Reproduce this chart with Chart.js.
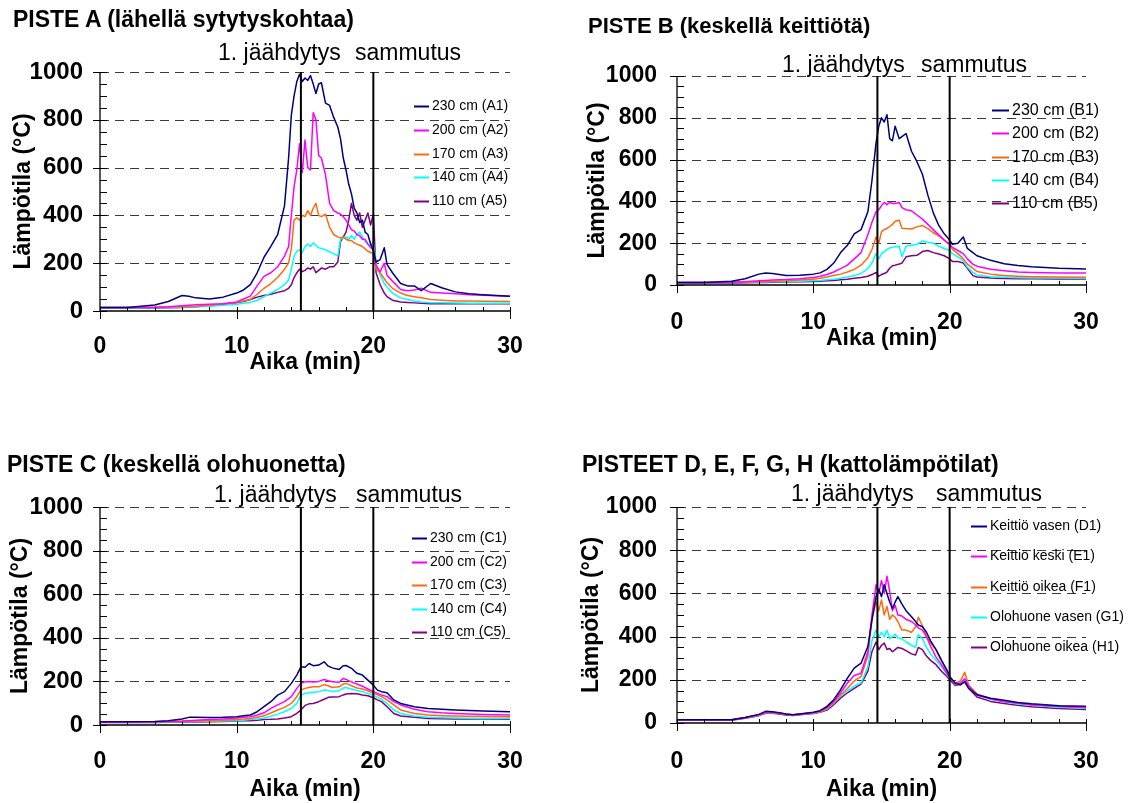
<!DOCTYPE html>
<html><head><meta charset="utf-8">
<script src="https://cdn.jsdelivr.net/npm/chart.js@4.4.1/dist/chart.umd.min.js"></script>
<style>
html,body{margin:0;padding:0;background:#fff;}
body{width:1130px;height:803px;position:relative;overflow:hidden;font-family:"Liberation Sans",Arial,sans-serif;}
canvas{position:absolute;}
.t{position:absolute;font-weight:bold;font-size:23px;line-height:23px;white-space:nowrap;color:#000;z-index:2;}
</style></head><body>
<script>
// ---------- data ----------
const panelTitles = ['PISTE A (lähellä sytytyskohtaa)','PISTE B (keskellä keittiötä)','PISTE C (keskellä olohuonetta)','PISTEET D, E, F, G, H (kattolämpötilat)'];
const xTitle = 'Aika (min)';
const yTitle = 'Lämpötila (°C)';
const eventTimes = [14.7, 20];
const eventLabels = ['1. jäähdytys', 'sammutus'];
const yGridValues = [200, 400, 600, 800, 1000];

const labelsA = ['230 cm (A1)','200 cm (A2)','170 cm (A3)','140 cm (A4)','110 cm (A5)'];
const labelsB = ['230 cm (B1)','200 cm (B2)','170 cm (B3)','140 cm (B4)','110 cm (B5)'];
const labelsC = ['230 cm (C1)','200 cm (C2)','170 cm (C3)','140 cm (C4)','110 cm (C5)'];
const labelsD = ['Keittiö vasen (D1)','Keittiö keski (E1)','Keittiö oikea (F1)','Olohuone vasen (G1)','Olohuone oikea (H1)'];

const tA = [0,2,4,5,6,6.5,7,8,9,10, 10.5,11,11.5,12,12.5,13,13.5,13.8,14,14.2, 14.4,14.6,14.8,15,15.2,15.4,15.6,15.8,16,16.2, 16.5,16.8,17.1,17.4,17.6,17.8,18,18.2,18.4,18.6, 18.8,19,19.2,19.4,19.6,19.8,20,20.2,20.5,20.8, 21,21.4,22,22.5,23,23.5,24.2,25,26,27, 28,30];
const a1 = [15,15,25,40,65,62,55,50,58,75, 88,110,160,225,270,320,440,640,820,900, 960,990,960,975,965,985,950,910,950,955, 870,860,810,770,720,640,590,530,490,430, 410,370,380,330,320,280,255,205,215,265, 195,160,115,105,105,85,115,97,80,72, 68,62];
const a2 = [15,15,16,18,22,24,26,28,30,38, 50,62,105,145,160,185,230,270,400,520, 590,700,580,715,600,590,830,800,650,640, 570,450,420,410,405,395,380,360,340,335, 320,315,300,300,280,265,255,190,165,200, 150,125,90,85,88,95,78,75,72,68, 66,62];
const a3 = [15,15,16,17,18,19,20,24,30,35, 42,48,70,95,115,140,175,200,260,380, 390,380,400,395,420,400,430,450,400,395, 405,350,320,310,305,310,300,295,295,285, 280,275,270,260,250,245,240,175,160,135, 118,95,75,65,60,55,48,45,42,42, 41,40];
const a4 = [13,13,14,15,16,17,18,20,24,28, 32,36,45,60,75,90,110,130,175,230, 250,255,245,270,280,270,285,275,265,262, 255,248,240,230,300,305,310,300,315,300, 320,330,310,290,280,275,290,200,150,115, 100,75,55,48,42,38,35,34,33,32, 32,32];
const a5 = [12,12,13,14,15,16,18,22,28,35, 40,48,58,65,70,78,85,95,110,140, 160,175,165,170,180,175,185,160,170,180, 175,185,185,205,290,310,330,380,450,400, 380,410,350,380,410,360,405,160,110,75, 60,45,38,36,34,32,30,30,30,30, 30,30];

const tB = [0,2,4,5,6,6.5,7,8,9,10, 10.5,11,11.5,12,12.5,13,13.5,14,14.3,14.6, 14.8,15,15.2,15.4,15.6,15.8,16,16.3,16.5,16.8, 17.2,17.6,18,18.4,18.8,19.2,19.6,20,20.2,20.6, 21,21.3,21.7,22,23,24,25,26,28,30];
const b1 = [12,12,18,30,52,57,55,45,47,52, 58,75,105,155,190,245,265,350,500,680, 760,800,780,815,700,690,760,700,710,725, 640,590,530,430,345,285,245,215,195,200, 230,175,155,140,118,102,93,87,80,77];
const b2 = [12,12,13,16,20,22,24,26,30,36, 42,50,62,78,95,125,155,240,300,350, 360,380,395,385,395,390,390,395,370,360, 355,335,315,290,265,240,215,195,180,165, 150,125,100,90,75,68,62,60,58,57];
const b3 = [12,12,13,14,16,17,18,20,24,28, 32,38,45,52,62,75,95,130,170,230, 200,255,265,270,280,290,305,310,272,270, 268,278,285,270,250,235,215,195,170,150, 125,100,80,65,52,45,42,40,38,37];
const b4 = [12,12,12,13,14,14,15,16,18,20, 22,25,28,32,38,45,55,80,105,150, 125,150,160,170,177,180,183,185,135,185, 190,195,210,205,200,185,175,165,150,135, 115,85,60,48,40,37,35,34,33,32];
const b5 = [10,10,10,11,12,12,13,14,15,17, 18,20,22,25,28,32,36,42,50,60, 42,50,55,62,80,92,95,100,105,135, 140,142,160,165,155,148,140,125,112,112, 105,80,45,38,33,31,30,30,29,29];

const tC = [0,2,4,5,6,6.5,7,8,9,10, 10.5,11,11.5,12,12.5,13,13.5,14,14.4,14.7, 15,15.3,15.6,16,16.4,16.7,17,17.5,17.8,18, 18.4,18.8,19.2,19.6,20,20.3,20.6,21,21.5,22, 23,24,25,26,27,28,30];
const c1 = [15,15,16,20,28,35,35,34,35,38, 42,46,61,84,107,137,153,191,229,267, 265,282,272,275,290,270,262,255,272,273, 260,237,229,206,183,160,153,148,115,99, 84,76,72,69,66,64,61];
const c2 = [14,14,15,16,18,20,22,25,28,32, 35,38,46,56,76,92,107,130,168,191, 198,200,197,200,209,203,198,196,214,209, 198,188,178,165,153,145,138,130,107,92, 72,61,56,53,50,48,46];
const c3 = [14,14,15,15,16,17,18,20,22,25, 27,30,36,42,55,69,81,99,130,160, 168,172,175,175,185,180,172,175,188,191, 180,170,165,157,145,138,130,115,92,69, 53,46,43,41,40,39,38];
const c4 = [13,13,14,14,15,15,16,17,18,20, 22,25,28,32,40,50,61,76,99,137, 145,148,150,153,160,158,153,157,170,172, 165,158,153,145,135,128,118,99,69,53, 41,35,33,32,31,30,30];
const c5 = [12,12,12,13,13,14,14,15,16,18, 19,20,22,25,26,28,32,38,53,69, 90,97,99,107,118,127,128,130,138,142, 145,143,138,134,125,115,107,84,53,41, 35,30,29,28,27,27,26];

const tD = [0,2,4,5,6,6.5,7,7.5,8,8.5, 9,10,10.5,11,11.5,12,12.5,13,13.5,14, 14.3,14.6,14.8,15,15.2,15.4,15.6,15.8,16,16.2, 16.5,16.8,17.2,17.5,17.7,18,18.3,18.6,19,19.4, 19.8,20,20.4,20.8,21.1,21.4,22,23,24,25, 26,28,30];
const d1 = [15,15,15,25,40,54,52,48,42,38, 42,50,57,77,108,154,208,254,277,354, 477,585,620,585,640,600,560,530,560,585, 550,520,492,470,454,446,420,380,340,290, 245,215,185,177,192,160,131,115,105,95, 89,80,77];
const d2 = [15,15,15,25,38,50,50,46,40,38, 42,48,55,72,100,140,185,220,230,330, 500,640,600,660,600,680,610,520,545,500, 495,480,470,455,440,430,400,355,305,270, 230,210,180,185,205,170,130,112,100,92, 85,78,72];
const d3 = [15,15,15,24,36,48,48,45,40,37, 40,46,52,68,95,130,160,195,215,310, 480,560,520,570,500,540,480,500,490,470, 430,430,420,445,490,450,400,370,340,290, 240,210,185,195,235,175,135,112,100,92, 85,78,72];
const d4 = [15,15,15,24,36,48,48,45,40,37, 40,46,52,65,92,125,150,170,185,260, 380,430,400,420,400,430,390,400,410,395, 390,375,360,350,410,390,350,320,290,260, 225,210,180,185,200,170,130,110,97,88, 82,73,68];
const d5 = [13,13,13,22,34,45,45,42,37,35, 38,44,50,60,85,115,140,160,180,240, 330,375,340,360,370,340,345,330,340,350, 345,335,320,315,350,340,310,290,270,240, 215,200,175,178,190,160,120,100,90,82, 75,67,62];

// ---------- styling / layout ----------
const colors = ['#000080','#ff00ff','#ff6a10','#00ffff','#800080'];
const FONT = '"Liberation Sans", Arial, sans-serif';

const panels = [
  {id:'A', t:tA, s:[a1,a2,a3,a4,a5], labels:labelsA, title:panelTitles[0],
   box:{left:0,top:0,w:565,h:400}, area:{l:100,t:72,r:510,b:311}, titlePos:{x:13,y:8,size:23},
   yTick:{size:24,pad:17}, xTickPad:22, xTitlePad:24, yTitlePad:10, ann:{y:60,x1:218,x2:355},
   leg:{x:414,y0:106,dy:23.75,font:14,len:15}},
  {id:'B', t:tB, s:[b1,b2,b3,b4,b5], labels:labelsB, title:panelTitles[1],
   box:{left:565,top:0,w:565,h:400}, area:{l:112,t:76,r:521,b:285}, titlePos:{x:588,y:15,size:22},
   yTick:{size:23,pad:20}, xTickPad:24, xTitlePad:48, yTitlePad:19, ann:{y:72,x1:217,x2:356},
   leg:{x:427,y0:110,dy:23.25,font:16,len:17}},
  {id:'C', t:tC, s:[c1,c2,c3,c4,c5], labels:labelsC, title:panelTitles[2],
   box:{left:0,top:440,w:565,h:363}, area:{l:100,t:67,r:510,b:285}, titlePos:{x:7,y:453,size:23},
   yTick:{size:24,pad:17}, xTickPad:23, xTitlePad:0, yTitlePad:7, ann:{y:62,x1:214,x2:356},
   leg:{x:412,y0:98,dy:23.5,font:14,len:15}},
  {id:'D', t:tD, s:[d1,d2,d3,d4,d5], labels:labelsD, title:panelTitles[3],
   box:{left:565,top:440,w:565,h:363}, area:{l:112,t:67,r:521,b:283}, titlePos:{x:582,y:453,size:23},
   yTick:{size:23,pad:20}, xTickPad:25, xTitlePad:0, yTitlePad:13, ann:{y:61,x1:226,x2:371},
   leg:{x:406,y0:86,dy:30.25,font:14,len:16}}
];

const decor = {
  id: 'decor',
  beforeDatasetsDraw(chart) {
    const {ctx, chartArea: a, scales: {y}} = chart;
    ctx.save();
    ctx.strokeStyle = '#3a3a3a'; ctx.lineWidth = 1; ctx.setLineDash([9, 6]);
    for (const v of yGridValues) {
      const py = Math.round(y.getPixelForValue(v)) + 0.5;
      ctx.beginPath(); ctx.moveTo(a.left, py); ctx.lineTo(a.right, py); ctx.stroke();
    }
    ctx.restore();
  },
  afterDatasetsDraw(chart) {
    const {ctx, chartArea: a, scales: {x, y}} = chart;
    const p = chart.options.plugins.decor.panel;
    ctx.save();
    ctx.strokeStyle = '#000'; ctx.lineWidth = 1.3;
    ctx.beginPath();
    ctx.moveTo(a.left, a.top); ctx.lineTo(a.left, a.bottom); ctx.lineTo(a.right, a.bottom);
    ctx.stroke();
    ctx.lineWidth = 1;
    for (let v = 0; v <= 1000; v += 50) {
      const py = Math.round(y.getPixelForValue(v)) + 0.5;
      ctx.beginPath();
      if (v % 200 === 0) { ctx.moveTo(a.left - 7, py); ctx.lineTo(a.left + 7, py); }
      else { ctx.moveTo(a.left, py); ctx.lineTo(a.left + 7, py); }
      ctx.stroke();
    }
    for (let v = 0; v <= 30; v += 2) {
      const px = Math.round(x.getPixelForValue(v)) + 0.5;
      ctx.beginPath();
      ctx.moveTo(px, a.bottom - 4); ctx.lineTo(px, a.bottom); ctx.stroke();
    }
    for (let v = 0; v <= 30; v += 10) {
      const px = Math.round(x.getPixelForValue(v)) + 0.5;
      ctx.beginPath();
      ctx.moveTo(px, a.bottom - 4); ctx.lineTo(px, a.bottom + 8); ctx.stroke();
    }
    ctx.lineWidth = 2;
    for (const tv of eventTimes) {
      const px = x.getPixelForValue(tv);
      ctx.beginPath(); ctx.moveTo(px, a.top); ctx.lineTo(px, a.bottom); ctx.stroke();
    }
    ctx.fillStyle = '#000';
    ctx.font = '23px ' + FONT;
    ctx.textBaseline = 'alphabetic'; ctx.textAlign = 'left';
    ctx.fillText(eventLabels[0], p.ann.x1, p.ann.y);
    ctx.fillText(eventLabels[1], p.ann.x2, p.ann.y);
    ctx.font = p.leg.font + 'px ' + FONT;
    ctx.textBaseline = 'middle';
    chart.data.datasets.forEach((ds, i) => {
      const ly = Math.round(p.leg.y0 + i * p.leg.dy) + 0.5;
      ctx.strokeStyle = ds.borderColor; ctx.lineWidth = 2;
      ctx.beginPath(); ctx.moveTo(p.leg.x, ly); ctx.lineTo(p.leg.x + p.leg.len, ly); ctx.stroke();
      ctx.fillStyle = '#000';
      ctx.fillText(ds.label, p.leg.x + p.leg.len + 3, ly);
    });
    ctx.restore();
  }
};

const tickFont = {family: FONT, size: 23, weight: 'bold'};

for (const p of panels) {
  const cv = document.createElement('canvas');
  cv.width = p.box.w; cv.height = p.box.h;
  cv.style.left = p.box.left + 'px'; cv.style.top = p.box.top + 'px';
  cv.style.width = p.box.w + 'px'; cv.style.height = p.box.h + 'px';
  document.body.appendChild(cv);

  const tdiv = document.createElement('div');
  tdiv.className = 't'; tdiv.textContent = p.title;
  tdiv.style.left = p.titlePos.x + 'px'; tdiv.style.top = p.titlePos.y + 'px';
  tdiv.style.fontSize = p.titlePos.size + 'px'; tdiv.style.lineHeight = p.titlePos.size + 'px';
  document.body.appendChild(tdiv);

  const datasets = p.s.map((vals, i) => ({
    label: p.labels[i],
    data: p.t.map((tv, j) => ({x: tv, y: vals[j]})),
    borderColor: colors[i], backgroundColor: colors[i],
    borderWidth: 1.5, pointRadius: 0, tension: 0, fill: false,
    borderJoinStyle: 'round'
  }));
  new Chart(cv, {
    type: 'line',
    data: {datasets},
    plugins: [decor],
    options: {
      responsive: false, animation: false, devicePixelRatio: 1,
      layout: {padding: {left: 0, top: p.area.t, right: p.box.w - p.area.r, bottom: 0}},
      plugins: {legend: {display: false}, tooltip: {enabled: false}, decor: {panel: p}},
      scales: {
        x: {
          type: 'linear', min: 0, max: 30,
          ticks: {stepSize: 10, font: tickFont, color: '#000', padding: p.xTickPad, maxRotation: 0, autoSkip: false,
                  callback: v => String(v)},
          grid: {display: false, drawTicks: false}, border: {display: false},
          title: {display: true, text: xTitle, font: tickFont, color: '#000', padding: {top: 0, bottom: p.xTitlePad}},
          afterFit: s => { s.height = p.box.h - p.area.b; }
        },
        y: {
          min: 0, max: 1000,
          ticks: {stepSize: 200, font: {family: FONT, size: p.yTick.size, weight: 'bold'}, color: '#000', padding: p.yTick.pad, callback: v => String(v)},
          grid: {display: false, drawTicks: false}, border: {display: false},
          title: {display: true, text: yTitle, font: tickFont, color: '#000', padding: {top: p.yTitlePad, bottom: 0}},
          afterFit: s => { s.width = p.area.l; }
        }
      }
    }
  });
}
</script>
</body></html>
